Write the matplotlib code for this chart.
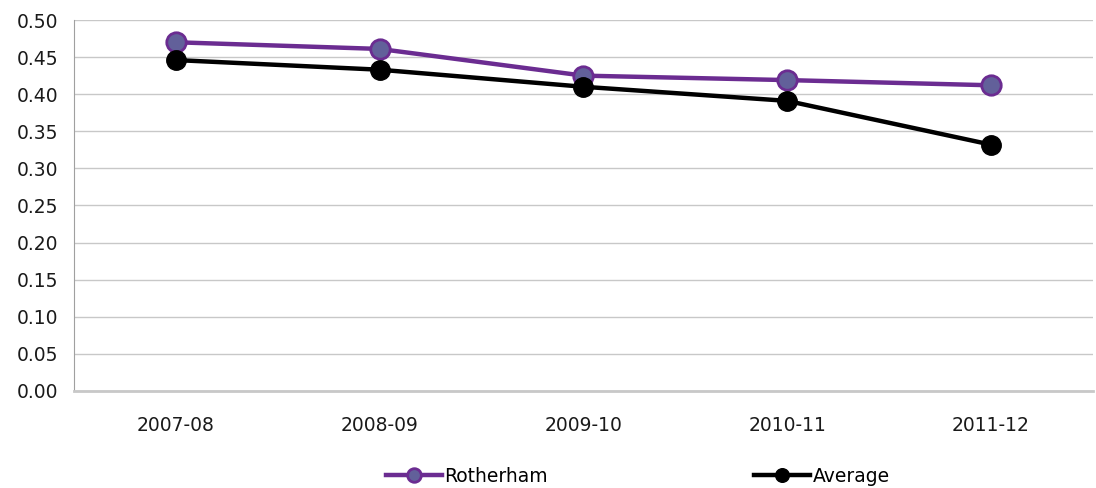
import numpy as np
import matplotlib.pyplot as plt

years = ['2007-08', '2008-09', '2009-10', '2010-11', '2011-12']
rotherham = [0.470, 0.461, 0.425, 0.419, 0.412]
average = [0.446, 0.433, 0.410, 0.391, 0.332]

fig = plt.figure(figsize=(10.96, 4.88), dpi=100)
ax = fig.add_axes([0.0675, 0.199, 0.9295, 0.76])

x = np.arange(len(years))
ax.plot(x, rotherham, color='#6b2c91', lw=3.2, marker='o', ms=14,
        mfc='#62609a', mec='#6b2c91', mew=2, label='Rotherham', zorder=3)
ax.plot(x, average, color='black', lw=3.2, marker='o', ms=14,
        mfc='black', mec='black', label='Average', zorder=3)

ax.set_xlim(-0.5, len(years) - 0.5)
ax.set_ylim(0, 0.5)
ax.set_yticks(np.arange(0, 0.501, 0.05))
ax.set_yticklabels(['%.2f' % v for v in np.arange(0, 0.501, 0.05)])
ax.set_xticks(x)
ax.set_xticklabels(years)
ax.tick_params(labelsize=13.5, length=0, colors='#1a1a1a')
ax.tick_params(axis='x', pad=18)
ax.tick_params(axis='y', pad=11)
ax.grid(axis='y', color='#c8c8c8', lw=1)
ax.set_axisbelow(True)
for s in ['top', 'right']:
    ax.spines[s].set_visible(False)
ax.spines['left'].set_color('#a0a0a0')
ax.spines['bottom'].set_color('#c8c8c8')
ax.spines['bottom'].set_linewidth(2)

fig.legend(loc='lower center', bbox_to_anchor=(0.582, -0.03), ncol=2, frameon=False,
           fontsize=13.5, handlelength=3.0, handletextpad=0.1, columnspacing=11,
           markerscale=0.7)

plt.savefig('out.png')
